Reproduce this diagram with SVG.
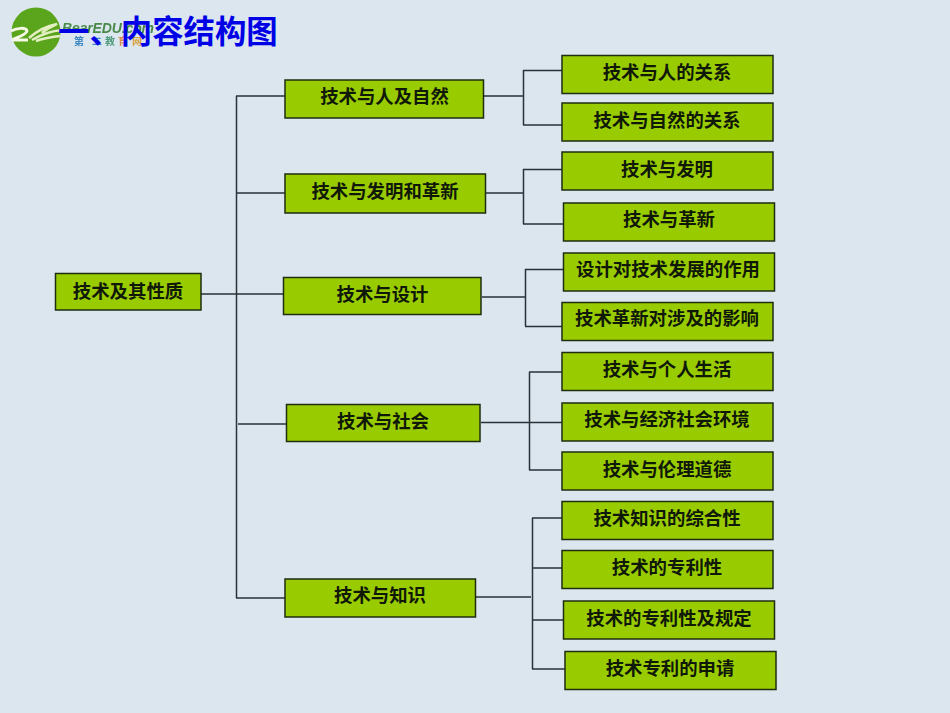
<svg xmlns="http://www.w3.org/2000/svg" width="950" height="713" viewBox="0 0 950 713">
<style>
.n{fill:#99cc00;stroke:#1f2d10;stroke-width:1.5}
.t{font-family:"Liberation Sans","Noto Sans CJK SC",sans-serif;font-size:18.4px;font-weight:700;fill:#101808;text-anchor:middle}
.c{fill:none;stroke:#2a3238;stroke-width:1.5}
.title{font-family:"Liberation Sans","Noto Sans CJK SC",sans-serif;font-size:31.4px;font-weight:700;fill:#0000e6}
.lg{font-family:"Liberation Sans","Noto Sans CJK SC",sans-serif;font-weight:700}
</style>
<defs><filter id="b" x="-10%" y="-10%" width="120%" height="120%"><feGaussianBlur stdDeviation="0.6"/></filter></defs>
<rect width="950" height="713" fill="#dbe6ee"/>
<g id="logo" filter="url(#b)">
<circle cx="36" cy="32" r="24.500" fill="#5aa51e"/>
<path d="M11 31C17 28 26 27 27 31C26 35 18 37 12 40H28" fill="none" stroke="#f4f8e4" stroke-width="3"/>
<path d="M29 38C37 31 46 26 57 24C50 28 46 29 42 33M32 40C42 34 50 31 62 30M36 41C44 38 52 37 60 36" fill="none" stroke="#e3efc0" stroke-width="2.500"/>
<text class="lg" x="62" y="33" font-size="14" font-style="italic" fill="#4a8a4a" textLength="92">BearEDU.com</text>
<text class="lg" x="74" y="45" font-size="10" fill="#3b87c4">第</text>
<text class="lg" x="92" y="45" font-size="10" fill="#3b87c4">二</text>
<text class="lg" x="105" y="45" font-size="10" fill="#4f9a7a">教</text>
<text class="lg" x="118" y="45" font-size="10" fill="#d98a50">育</text>
<text class="lg" x="132" y="45" font-size="10" fill="#d9a040">网</text>
</g>
<text class="title" x="58" y="43">一、内容结构图</text>
<g id="connectors" class="c">
<path d="M236.500 96V598M236 96H285M236 193H285M201 294H283M238 424H286M236 598H285"/>
<path d="M484 96H523M523.500 70V125M523 70.500H562M523 125H562"/>
<path d="M486 193H523M523.500 169V224M523 169.500H562M523 224H564"/>
<path d="M482 297H525M525.500 269V326M525 269.500H564M525 326.500H562"/>
<path d="M481 422.500H564M529.500 372V470M529 372H562M529 470H562"/>
<path d="M476 597H531M532.500 518V669M532 518H562M532 568H562M532 620H564M532 669H565"/>
</g>
<g id="n0"><rect class="n" x="55.500" y="273.500" width="145.500" height="36.500"/><text class="t" x="128" y="298">技术及其性质</text></g>
<g id="n1"><rect class="n" x="285" y="80" width="198.500" height="38"/><text class="t" x="384.500" y="103">技术与人及自然</text></g>
<g id="n2"><rect class="n" x="285" y="174" width="200.500" height="39"/><text class="t" x="385" y="198">技术与发明和革新</text></g>
<g id="n3"><rect class="n" x="283.500" y="277.500" width="197.500" height="37"/><text class="t" x="382.500" y="301">技术与设计</text></g>
<g id="n4"><rect class="n" x="286.500" y="404.500" width="193.500" height="37"/><text class="t" x="383" y="428">技术与社会</text></g>
<g id="n5"><rect class="n" x="285" y="579" width="190.500" height="38"/><text class="t" x="380" y="602">技术与知识</text></g>
<g id="a1"><rect class="n" x="562" y="55.500" width="211" height="38"/><text class="t" x="667" y="79">技术与人的关系</text></g>
<g id="a2"><rect class="n" x="562" y="103" width="211" height="38"/><text class="t" x="667" y="127">技术与自然的关系</text></g>
<g id="b1"><rect class="n" x="562" y="152" width="211" height="38"/><text class="t" x="667" y="176">技术与发明</text></g>
<g id="b2"><rect class="n" x="563.500" y="203" width="211" height="38"/><text class="t" x="669" y="226">技术与革新</text></g>
<g id="c1"><rect class="n" x="563.500" y="253" width="211" height="38"/><text class="t" x="668" y="276">设计对技术发展的作用</text></g>
<g id="c2"><rect class="n" x="562" y="302.500" width="211" height="38"/><text class="t" x="667" y="325">技术革新对涉及的影响</text></g>
<g id="d1"><rect class="n" x="562" y="352.500" width="211" height="38"/><text class="t" x="667" y="376">技术与个人生活</text></g>
<g id="d2"><rect class="n" x="562" y="403" width="211" height="38"/><text class="t" x="667" y="426">技术与经济社会环境</text></g>
<g id="d3"><rect class="n" x="562" y="452" width="211" height="38"/><text class="t" x="667" y="476">技术与伦理道德</text></g>
<g id="e1"><rect class="n" x="562" y="501.500" width="211" height="38"/><text class="t" x="667" y="525">技术知识的综合性</text></g>
<g id="e2"><rect class="n" x="562" y="550.500" width="211" height="38"/><text class="t" x="667" y="574">技术的专利性</text></g>
<g id="e3"><rect class="n" x="563.500" y="601" width="211" height="38"/><text class="t" x="669" y="625">技术的专利性及规定</text></g>
<g id="e4"><rect class="n" x="565" y="651.500" width="211" height="38"/><text class="t" x="670" y="675">技术专利的申请</text></g>
</svg>
